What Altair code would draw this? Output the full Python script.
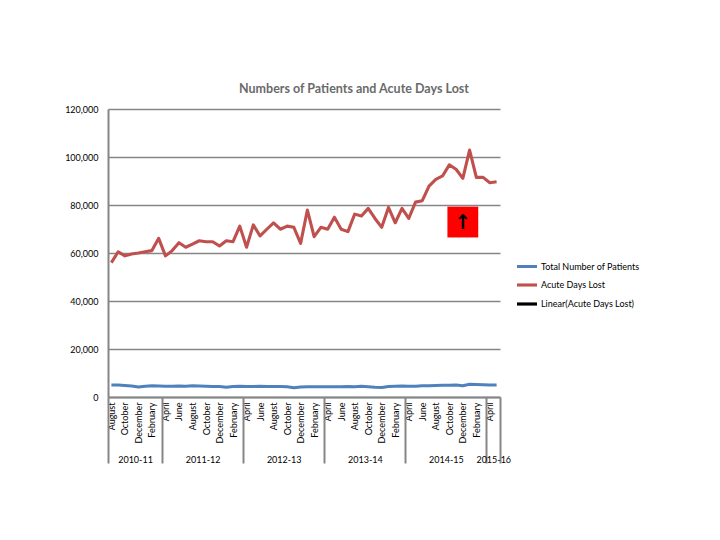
import altair as alt
import pandas as pd

# ---------------- data ----------------
MONTH_CYCLE = ["August", "September", "October", "November", "December", "January",
               "February", "March", "April", "May", "June", "July"]
N_MONTHS = 58  # August 2010 .. May 2015
month_names = [MONTH_CYCLE[i % 12] for i in range(N_MONTHS)]

acute_days_lost = [
    56000, 60500, 58800, 59600, 60000, 60500, 61000, 66100, 58800, 61000,
    64300, 62400, 63700, 65100, 64700, 64700, 62900, 65100, 64700, 71200,
    62400, 71700, 67100, 69900, 72600, 69900, 71200, 70700, 64000, 77900,
    66800, 70700, 69900, 74900, 69900, 68900, 76200, 75400, 78600, 74400,
    70700, 79000, 72600, 78600, 74400, 81200, 81800, 87900, 90700, 92100,
    96700, 94900, 91100, 102900, 91500, 91500, 89300, 89700,
]
total_patients = [
    5000, 5000, 4800, 4600, 4200, 4500, 4700, 4600, 4500, 4500,
    4600, 4500, 4700, 4600, 4500, 4400, 4400, 4100, 4400, 4500,
    4400, 4400, 4500, 4400, 4400, 4400, 4300, 3900, 4200, 4300,
    4300, 4300, 4300, 4300, 4300, 4400, 4300, 4500, 4300, 4100,
    4000, 4400, 4500, 4600, 4500, 4500, 4700, 4700, 4800, 4900,
    4900, 5000, 4700, 5300, 5200, 5100, 5000, 5000,
]

fiscal_years = ["2010-11", "2011-12", "2012-13", "2013-14", "2014-15", "2015-16"]
fy_first_month = [0, 8, 20, 32, 44, 56]
fy_last_month = [7, 19, 31, 43, 55, 57]

SERIES = ["Total Number of Patients", "Acute Days Lost", "Linear(Acute Days Lost)"]
COLORS = ["#4F81BD", "#C0504D", "#000000"]
WIDTHS = [3, 3.2, 1.2]

title_text = "Numbers of Patients and Acute Days Lost"
y_ticks = [0, 20000, 40000, 60000, 80000, 100000, 120000]

# annotation: red box with up arrow (data coordinates)
ANNOT_MONTH = 52
ANNOT_VALUE = 72900

# ---------------- tables ----------------
rows = []
for i in range(N_MONTHS):
    rows.append({"idx": i, "month": month_names[i], "series": SERIES[0], "value": total_patients[i]})
for i in range(N_MONTHS):
    rows.append({"idx": i, "month": month_names[i], "series": SERIES[1], "value": acute_days_lost[i]})
df = pd.DataFrame(rows)

mids = [(a + b) / 2 for a, b in zip(fy_first_month, fy_last_month)]
bounds = [fy_first_month[0] - 0.5] + [b + 0.5 for b in fy_last_month]
grp_df = pd.DataFrame({"pos": bounds + mids})

annot_df = pd.DataFrame({"idx": [ANNOT_MONTH], "value": [ANNOT_VALUE], "txt": ["↑"]})

FONT = "Lato"
GRAY = "#868686"
XDOM = [-0.5, N_MONTHS - 0.5]

month_js = "[" + ",".join("'%s'" % m for m in month_names) + "]"
month_axis = alt.Axis(
    values=list(range(0, N_MONTHS, 2)),
    labelExpr=month_js + "[datum.value]",
    labelAngle=-90, labelFontSize=9, labelFont=FONT, labelColor="#000000",
    labelPadding=5, labelFlush=False, labelOverlap=False,
    ticks=False, grid=False, domainColor=GRAY, domainWidth=2, title=None,
)

y_axis = alt.Axis(
    values=y_ticks, format=",.0f", labelFontSize=9, labelFont=FONT, labelColor="#000000",
    labelPadding=10, ticks=False, grid=True, gridColor=GRAY, gridWidth=1.6,
    domainColor=GRAY, domainWidth=2, title=None,
)

x_main = alt.X("idx:Q", scale=alt.Scale(domain=XDOM, nice=False, zero=False), axis=month_axis)
y_main = alt.Y("value:Q", scale=alt.Scale(domain=[0, 120000], nice=False), axis=y_axis)

lines = alt.Chart(df).mark_line(strokeJoin="round").encode(
    x=x_main,
    y=y_main,
    color=alt.Color("series:N", scale=alt.Scale(domain=SERIES, range=COLORS),
                    legend=alt.Legend(title=None)),
    strokeWidth=alt.StrokeWidth("series:N", scale=alt.Scale(domain=SERIES, range=WIDTHS),
                                legend=alt.Legend(title=None)),
    order="idx:Q",
)

box = alt.Chart(annot_df).mark_square(color="#FF0000", opacity=1, size=950).encode(
    x=x_main, y=y_main)
arrow = alt.Chart(annot_df).mark_text(fontSize=20, fontWeight="bold", color="#000000",
                                      font="DejaVu Sans", baseline="middle", dy=1).encode(
    x=x_main, y=y_main, text="txt:N")

main = alt.layer(lines, box, arrow)

is_mid = "indexof(" + str(mids) + ", datum.value) >= 0"
fy_js = "[" + ",".join("'%s'" % f for f in fiscal_years) + "]"
grp_axis = alt.Axis(
    orient="bottom",
    values=bounds + mids,
    labelExpr=is_mid + " ? " + fy_js + "[indexof(" + str(mids) + ", datum.value)] : ''",
    tickSize=66, tickColor=GRAY, tickWidth=2,
    tickOpacity={"condition": {"test": is_mid, "value": 0}, "value": 1},
    labelPadding=-8, labelFontSize=9, labelFont=FONT, labelColor="#000000",
    labelFlush=False, labelOverlap=False, labelBound=False,
    domain=False, grid=False, title=None,
)
groups = alt.Chart(grp_df).mark_tick(opacity=0).encode(
    x=alt.X("pos:Q", scale=alt.Scale(domain=XDOM, nice=False, zero=False), axis=grp_axis)
)

chart = alt.layer(main, groups).resolve_scale(x="independent").properties(
    width=392, height=288,
    title=alt.TitleParams(title_text, fontSize=12.5, font=FONT, fontWeight="bold",
                          color="#6A6A6A", anchor="middle", dx=50, offset=10),
    autosize=alt.AutoSizeParams(type="none"),
    padding={"left": 100, "top": 101, "right": 200, "bottom": 135},
).configure_view(stroke=None).configure_legend(
    orient="none", legendX=407, legendY=146, symbolType="stroke", symbolSize=400,
    labelFontSize=9, labelFont=FONT, labelColor="#000000", rowPadding=-2, labelOffset=2,
)

chart.save("out.html", embed_options={"renderer": "svg", "actions": False})
